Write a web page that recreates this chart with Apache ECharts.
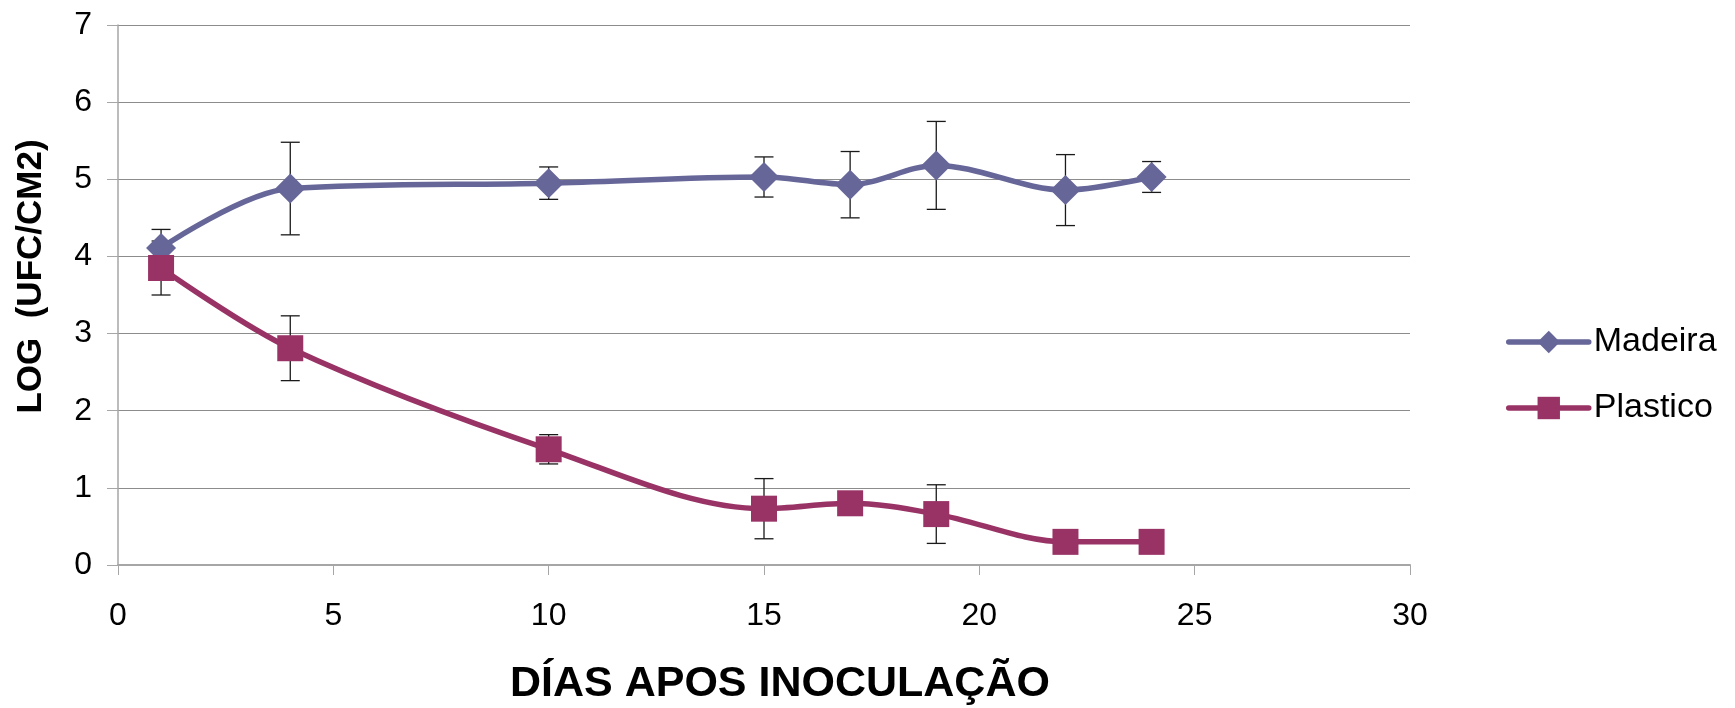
<!DOCTYPE html>
<html>
<head>
<meta charset="utf-8">
<script src="https://cdn.jsdelivr.net/npm/echarts@6/dist/echarts.min.js"></script>
<style>
html,body{margin:0;padding:0;background:#fff;}
#chart{width:1735px;height:708px;}
</style>
</head>
<body>
<div id="chart"></div>
<script>
// ---- data ----
const days = [1, 4, 10, 15, 17, 19, 22, 24];
const madeira = [4.11, 4.88, 4.95, 5.03, 4.93, 5.18, 4.86, 5.03];
const madeiraErr = [0.24, 0.60, 0.21, 0.26, 0.43, 0.57, 0.46, 0.20];
const plastico = [3.85, 2.81, 1.50, 0.73, 0.80, 0.66, 0.30, 0.30];
const plasticoErr = [0.35, 0.42, 0.19, 0.39, 0.10, 0.38, 0.05, 0.05];
const seriesNames = ['Madeira', 'Plastico'];
const xTitle = 'DÍAS APOS INOCULAÇÃO';
const yTitle = 'LOG  (UFC/CM2)';

const FONT = '"Liberation Sans", Arial, sans-serif';
const colors = ['#666699', '#993366'];

const pts = (vals) => days.map((d, i) => [d, vals[i]]);
const errPts = (vals, errs) => days.map((d, i) => [d, vals[i], errs[i]]);

function errorRender(params, api) {
  const x = api.value(0), y = api.value(1), e = api.value(2);
  const top = api.coord([x, y + e]);
  const bot = api.coord([x, y - e]);
  const hw = 9.5;
  const style = { stroke: '#1a1a1a', lineWidth: 1.3 };
  return {
    type: 'group',
    children: [
      { type: 'line', shape: { x1: top[0], y1: top[1], x2: bot[0], y2: bot[1] }, style },
      { type: 'line', shape: { x1: top[0] - hw, y1: top[1], x2: top[0] + hw, y2: top[1] }, style },
      { type: 'line', shape: { x1: bot[0] - hw, y1: bot[1], x2: bot[0] + hw, y2: bot[1] }, style }
    ]
  };
}

const chart = echarts.init(document.getElementById('chart'), null, { renderer: 'canvas' });
chart.setOption({
  animation: false,
  backgroundColor: '#ffffff',
  grid: { left: 118, right: 325, top: 25, bottom: 143, containLabel: false },
  xAxis: {
    type: 'value', min: 0, max: 30, interval: 5,
    axisLine: { show: true, onZero: false, lineStyle: { color: '#a6a6a6', width: 2 } },
    axisTick: { show: true, length: 10, lineStyle: { color: '#a6a6a6', width: 1 } },
    splitLine: { show: false },
    axisLabel: { margin: 35, fontSize: 32, color: '#000', fontFamily: FONT }
  },
  yAxis: {
    type: 'value', min: 0, max: 7, interval: 1,
    axisLine: { show: true, lineStyle: { color: '#a6a6a6', width: 1.5 } },
    axisTick: { show: true, length: 11, lineStyle: { color: '#a6a6a6', width: 1 } },
    splitLine: { show: true, lineStyle: { color: '#8c8c8c', width: 1 } },
    axisLabel: { margin: 26, fontSize: 32, color: '#000', fontFamily: FONT }
  },
  legend: {
    orient: 'vertical',
    left: 1501, top: 320,
    itemWidth: 80, itemHeight: 28, itemGap: 32,
    textStyle: { fontSize: 34, color: '#000', fontFamily: FONT, lineHeight: 34 },
    lineStyle: { width: 5.5, cap: 'round' },
    data: seriesNames
  },
  graphic: [
    {
      type: 'text', left: 510, top: 663,
      style: { text: xTitle, font: 'bold 43px ' + FONT, fill: '#000', verticalAlign: 'top' }
    },
    {
      type: 'text', x: 31, y: 276.5, rotation: Math.PI / 2,
      style: { text: yTitle, font: 'bold 35px ' + FONT, fill: '#000', align: 'center', verticalAlign: 'middle' }
    }
  ],
  series: [
    {
      type: 'custom', name: 'errM', z: 1, renderItem: errorRender,
      data: errPts(madeira, madeiraErr), silent: true
    },
    {
      type: 'custom', name: 'errP', z: 1, renderItem: errorRender,
      data: errPts(plastico, plasticoErr), silent: true
    },
    {
      name: seriesNames[0], type: 'line', z: 3, smooth: 0.33,
      data: pts(madeira),
      symbol: 'diamond', symbolSize: [30, 30],
      lineStyle: { color: colors[0], width: 5.5 },
      itemStyle: { color: colors[0] }
    },
    {
      name: seriesNames[1], type: 'line', z: 3, smooth: 0.33,
      data: pts(plastico),
      symbol: 'rect', symbolSize: [26, 26],
      lineStyle: { color: colors[1], width: 5.5 },
      itemStyle: { color: colors[1] }
    }
  ]
});
</script>
</body>
</html>
